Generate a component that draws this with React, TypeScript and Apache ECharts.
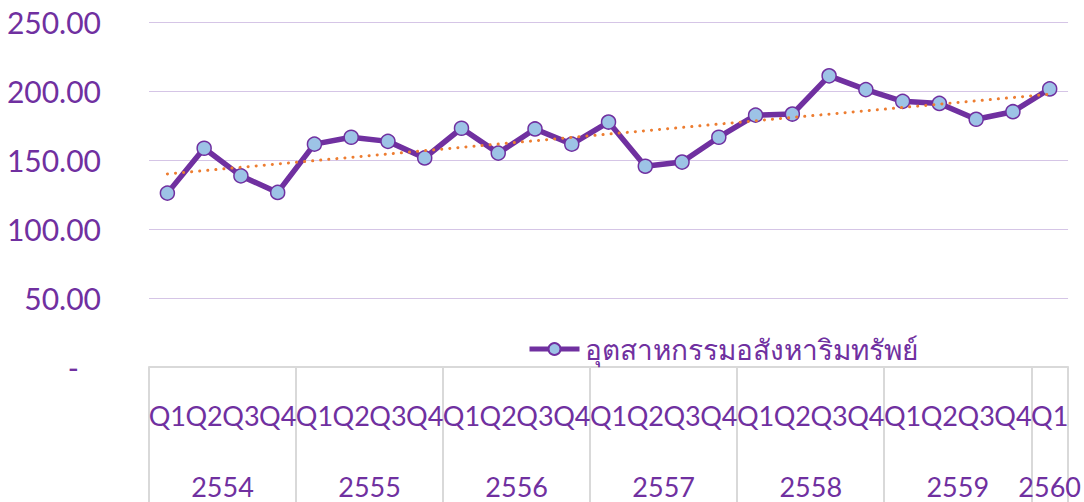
import React, { useEffect, useRef } from "react";
import * as echarts from "echarts";

const quarters = [
  "Q1", "Q2", "Q3", "Q4", "Q1", "Q2", "Q3", "Q4", "Q1", "Q2", "Q3", "Q4",
  "Q1", "Q2", "Q3", "Q4", "Q1", "Q2", "Q3", "Q4", "Q1", "Q2", "Q3", "Q4", "Q1",
];
const years = ["2554", "2555", "2556", "2557", "2558", "2559", "2560"];
const yearCenters = [2, 6, 10, 14, 18, 22, 24.5];
const yearBounds = [0, 4, 8, 12, 16, 20, 24, 25];
const values = [
  126, 158.5, 138.5, 126.5, 161.5, 166.5, 163.5, 151.5, 173, 155, 172.5, 161.5,
  177.5, 145.5, 148.5, 166.5, 182.5, 183.3, 211, 201, 192.5, 191, 179.5, 185, 201.5,
];
const seriesName = "อุตสาหกรรมอสังหาริมทรัพย์";

const PURPLE = "#7030A0";
const FONT = "Lato, 'Noto Sans', 'DejaVu Sans', sans-serif";

function trend(v: number[]): number[] {
  const n = v.length;
  let sx = 0, sy = 0, sxx = 0, sxy = 0;
  v.forEach((y, i) => { sx += i; sy += y; sxx += i * i; sxy += i * y; });
  const b = (n * sxy - sx * sy) / (n * sxx - sx * sx);
  const a = (sy - b * sx) / n;
  return v.map((_, i) => a + b * i);
}

export default function App() {
  const ref = useRef<HTMLDivElement>(null);
  useEffect(() => {
    const chart = echarts.init(ref.current!, null, { renderer: "svg" });
    chart.setOption({
      animation: false,
      textStyle: { fontFamily: FONT },
      grid: { left: 149, right: 14, top: 22, bottom: 135 },
      legend: {
        data: [seriesName],
        left: 522,
        top: 330,
        itemWidth: 50,
        itemHeight: 15,
        lineStyle: { width: 5 },
        textStyle: { color: PURPLE, fontSize: 28, fontFamily: FONT },
      },
      xAxis: [
        {
          type: "category",
          data: quarters,
          boundaryGap: true,
          position: "bottom",
          offset: 0,
          axisLine: { show: true, lineStyle: { color: "#D9D9D9", width: 2 } },
          axisTick: { show: false },
          axisLabel: { color: PURPLE, fontSize: 27, margin: 35, interval: 0, fontFamily: FONT },
          splitLine: { show: false },
        },
        {
          type: "value",
          min: 0,
          max: 25,
          interval: 0.5,
          position: "bottom",
          offset: 0,
          axisLine: { show: false },
          axisTick: {
            show: true,
            customValues: yearBounds,
            length: 136,
            lineStyle: { color: "#D9D9D9", width: 2 },
          },
          axisLabel: {
            show: true,
            customValues: yearCenters,
            color: PURPLE,
            fontSize: 27,
            margin: 106,
            fontFamily: FONT,
            formatter: (v: number) => {
              const i = yearCenters.indexOf(v);
              return i >= 0 ? years[i] : "";
            },
          },
          splitLine: { show: false },
        },
      ],
      yAxis: {
        type: "value",
        min: 0,
        max: 250,
        interval: 50,
        axisLine: { show: false },
        axisTick: { show: false },
        axisLabel: {
          color: PURPLE,
          fontSize: 30,
          margin: 48,
          fontFamily: FONT,
          formatter: (v: number) => (v === 0 ? "{d|-}" : v.toFixed(2)),
          rich: { d: { color: PURPLE, fontSize: 30, padding: [0, 22, 0, 0], fontFamily: FONT } },
        },
        splitLine: { lineStyle: { color: "#D5C5E6", width: 1 } },
      },
      series: [
        {
          name: seriesName,
          type: "line",
          data: values,
          xAxisIndex: 0,
          symbol: "circle",
          symbolSize: 14,
          z: 3,
          lineStyle: { color: PURPLE, width: 5.5 },
          itemStyle: { color: "#9DC3E6", borderColor: PURPLE, borderWidth: 1.5 },
        },
        {
          name: "trend",
          type: "line",
          data: trend(values),
          xAxisIndex: 0,
          symbol: "none",
          z: 4,
          lineStyle: { color: "#ED7D31", width: 3, type: [0.1, 8], cap: "round" },
        },
      ],
    });
    return () => chart.dispose();
  }, []);
  return <div ref={ref} style={{ width: 1084, height: 502, position: "absolute", left: 0, top: 0 }} />;
}
